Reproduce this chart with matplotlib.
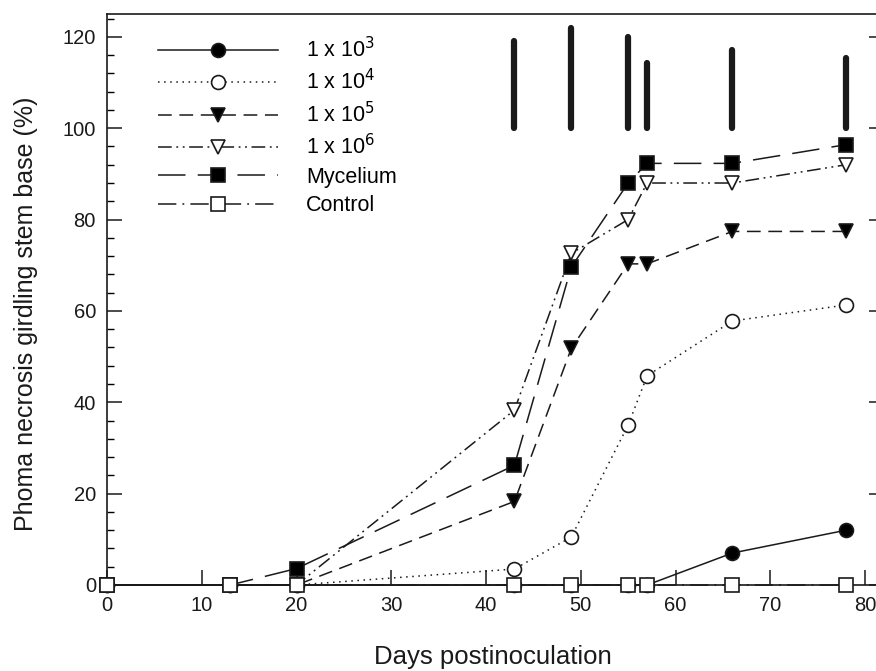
import numpy as np
import matplotlib
matplotlib.use("Agg")
import matplotlib.pyplot as plt
from matplotlib.ticker import MultipleLocator

plt.rcParams['font.family'] = ['Liberation Sans', 'DejaVu Sans']

# --- Données ---
jours = [0, 13, 20, 43, 49, 55, 57, 66, 78]
inoc_1e3 = [0, 0, 0, 0, 0, 0, 0, 7.0, 12.0]
inoc_1e4 = [0, 0, 0, 3.5, 10.5, 35.0, 45.8, 57.8, 61.3]
inoc_1e5 = [0, 0, 0, 18.3, 51.8, 70.3, 70.3, 77.4, 77.4]
inoc_1e6 = [0, 0, 0, 38.3, 72.6, 80.0, 88.0, 88.0, 92.0]
mycelium = [0, 0, 3.6, 26.2, 69.6, 88.0, 92.3, 92.3, 96.4]
controle = [0, 0, 0, 0, 0, 0, 0, 0, 0]

# barres verticales (LSD) partant de 100 %
lsd_jours = [43, 49, 55, 57, 66, 78]
lsd_valeurs = [19.1, 22.0, 20.0, 14.3, 17.2, 15.4]

series = [
    (inoc_1e3, r"1 x 10$^{3}$", 'o', 'black', '-'),
    (inoc_1e4, r"1 x 10$^{4}$", 'o', 'white', (0, (1, 3))),
    (inoc_1e5, r"1 x 10$^{5}$", 'v', 'black', (0, (9, 5))),
    (inoc_1e6, r"1 x 10$^{6}$", 'v', 'white', (0, (9, 3, 1.2, 3, 1.2, 3))),
    (mycelium, "Mycelium", 's', 'black', (0, (18, 8))),
    (controle, "Control", 's', 'white', (0, (12, 4, 1.2, 4))),
]

fig = plt.figure(figsize=(8.76, 6.71), dpi=100)
ax = fig.add_axes([107 / 876, 86 / 671, (884 - 107) / 876, (585 - 14) / 671])

# --- Barres LSD ---
for j, v in zip(lsd_jours, lsd_valeurs):
    ax.plot([j, j], [100, 100 + v], color='#1a1a1a', lw=4.5,
            solid_capstyle='round', clip_on=False)

# --- Courbes ---
for valeurs, nom, marqueur, remplissage, style in series:
    ax.plot(jours, valeurs, linestyle=style, color='#1a1a1a', lw=1.1,
            marker=marqueur, markersize=10, markerfacecolor=remplissage,
            markeredgecolor='#1a1a1a', markeredgewidth=1.2,
            label=nom, clip_on=False, zorder=3)

ax.set_xlim(0, 82)
ax.set_ylim(0, 125)
ax.yaxis.set_major_locator(MultipleLocator(20))
ax.yaxis.set_minor_locator(MultipleLocator(4))
ax.set_xticks(range(0, 81, 10))

ax.tick_params(axis='both', which='major', direction='in', length=11,
               width=1.1, labelsize=14.5, colors='#1a1a1a')
ax.tick_params(axis='x', pad=8)
ax.tick_params(axis='y', which='major', right=True, pad=8)
ax.tick_params(axis='y', which='minor', direction='in', length=5, width=1.0)
ax.tick_params(axis='x', which='minor', bottom=False)
for s in ax.spines.values():
    s.set_linewidth(1.2)
    s.set_color('#1a1a1a')

ax.set_xlabel("Days postinoculation", fontsize=18.5, color='#1a1a1a')
ax.set_ylabel("Phoma necrosis girdling stem base (%)", fontsize=18,
              color='#1a1a1a')
ax.xaxis.set_label_coords((493 - 107) / 777, -(657 - 585) / 571)
ax.yaxis.set_label_coords(-(107 - 26) / 777, (585 - 314) / 571)
ax.xaxis.label.set_verticalalignment('center')
ax.yaxis.label.set_verticalalignment('center')

leg = ax.legend(loc='upper left', bbox_to_anchor=(0.043, 0.99), frameon=False,
                fontsize=15.5, handlelength=5.6, handletextpad=1.3,
                labelspacing=0.34, borderpad=0.3)

fig.savefig("out.png", dpi=100)
